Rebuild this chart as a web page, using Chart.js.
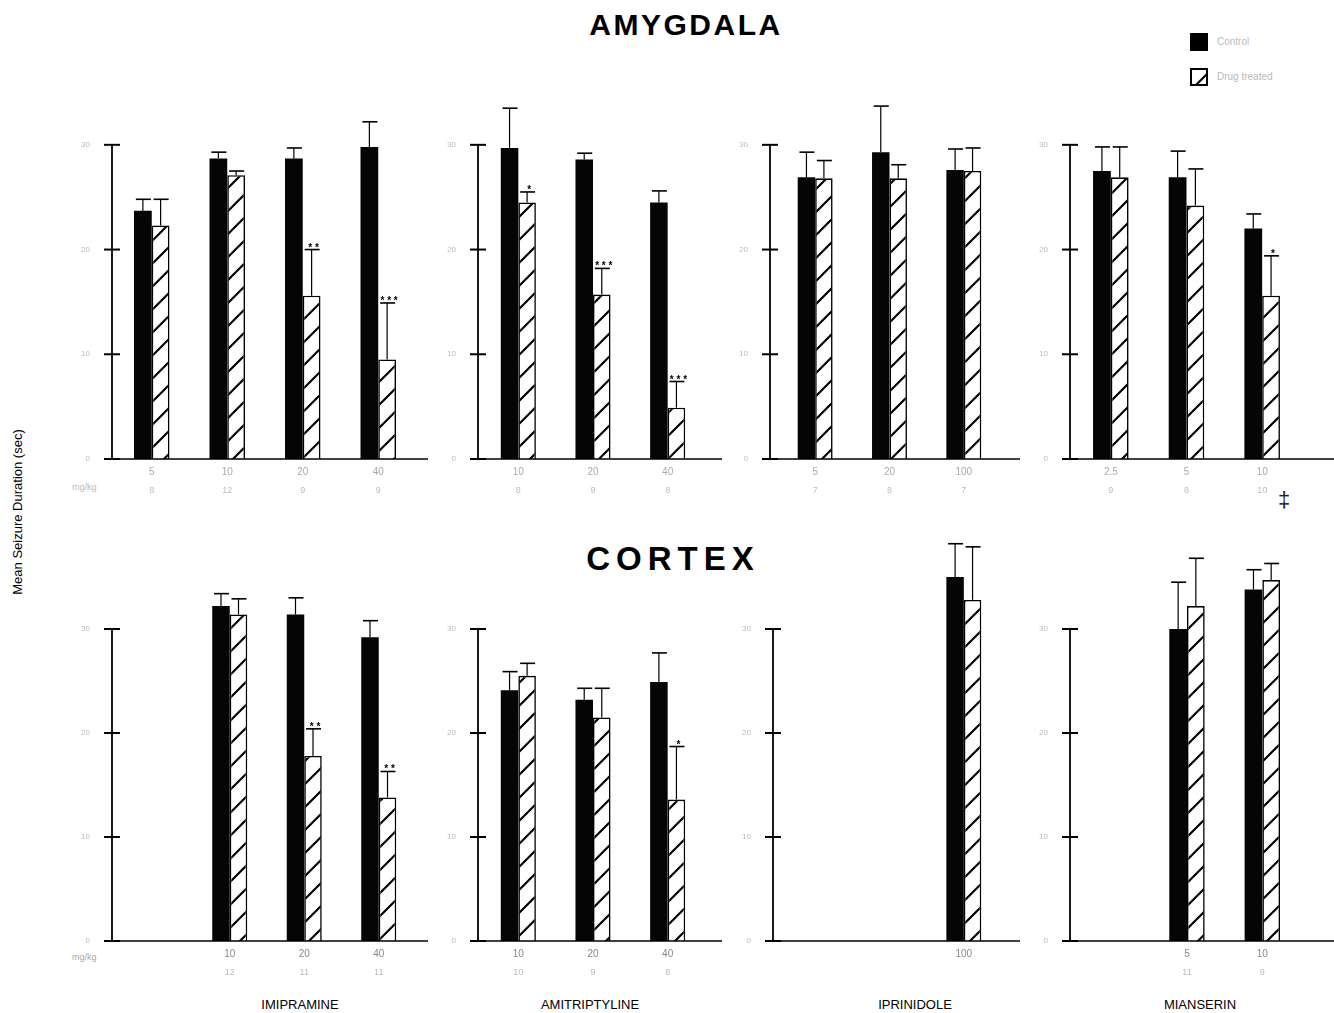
<!DOCTYPE html>
<html>
<head>
<meta charset="utf-8">
<script src="https://cdn.jsdelivr.net/npm/chart.js@4.4.1/dist/chart.umd.min.js"></script>
<style>
body { margin: 0; background: #fff; width: 1334px; height: 1013px; position: relative; overflow: hidden;
       font-family: "Liberation Sans", Arial, sans-serif; }
canvas { position: absolute; }
.t { position: absolute; white-space: nowrap; color: #000; }
</style>
</head>
<body>
<div class="t" style="left:0;width:1372px;text-align:center;top:10px;font-size:30px;line-height:30px;font-weight:bold;letter-spacing:2.5px;">AMYGDALA</div>
<div class="t" style="left:0;width:1346px;text-align:center;top:542px;font-size:33px;line-height:33px;font-weight:bold;letter-spacing:6px;">CORTEX</div>

<div class="t" style="left:1190px;top:33px;width:18px;height:18px;background:#000;"></div>
<canvas id="legHatch" width="18" height="18" style="left:1190px;top:68px;"></canvas>
<div class="t" style="left:1217px;top:36px;font-size:10px;color:#bbb;">Control</div>
<div class="t" style="left:1217px;top:71px;font-size:10px;color:#bbb;">Drug treated</div>

<div class="t" style="left:17px;top:512px;font-size:13px;transform:translate(-50%,-50%) rotate(-90deg);">Mean Seizure Duration (sec)</div>

<div class="t" style="left:300px;top:997px;font-size:13px;transform:translateX(-50%);">IMIPRAMINE</div>
<div class="t" style="left:590px;top:997px;font-size:13px;transform:translateX(-50%);">AMITRIPTYLINE</div>
<div class="t" style="left:915px;top:997px;font-size:13px;transform:translateX(-50%);">IPRINIDOLE</div>
<div class="t" style="left:1200px;top:997px;font-size:13px;transform:translateX(-50%);">MIANSERIN</div>

<div class="t" style="left:72px;top:482px;font-size:9px;color:#bbb;">mg/kg</div>
<div class="t" style="left:72px;top:952px;font-size:9px;color:#aaa;">mg/kg</div>
<div class="t" style="left:1278px;top:487px;font-size:22px;color:#222;">‡</div>

<script>
// y axis tick values (sec)
const tickValues = [0, 10, 20, 30];

// IMIPRAMINE
const imiDoses = ['5', '10', '20', '40'];
const imiAmyN = ['8', '12', '9', '9'];
const imiAmyCtl = [23.7, 28.7, 28.7, 29.8];
const imiAmyCtlSem = [1.1, 0.6, 1.0, 2.4];
const imiAmyDrug = [22.3, 27.1, 15.6, 9.5];
const imiAmyDrugSem = [2.5, 0.4, 4.4, 5.4];
const imiAmySig = ['', '', '**', '***'];
const imiCtxN = ['', '12', '11', '11'];
const imiCtxCtl = [null, 32.2, 31.4, 29.2];
const imiCtxCtlSem = [null, 1.2, 1.6, 1.6];
const imiCtxDrug = [null, 31.4, 17.8, 13.8];
const imiCtxDrugSem = [null, 1.5, 2.6, 2.5];
const imiCtxSig = ['', '', '**', '**'];

// AMITRIPTYLINE
const amiDoses = ['10', '20', '40'];
const amiAmyN = ['8', '9', '8'];
const amiAmyCtl = [29.7, 28.6, 24.5];
const amiAmyCtlSem = [3.8, 0.6, 1.1];
const amiAmyDrug = [24.5, 15.7, 4.9];
const amiAmyDrugSem = [1.0, 2.5, 2.5];
const amiAmySig = ['*', '***', '***'];
const amiCtxN = ['10', '9', '8'];
const amiCtxCtl = [24.1, 23.2, 24.9];
const amiCtxCtlSem = [1.8, 1.1, 2.8];
const amiCtxDrug = [25.5, 21.5, 13.6];
const amiCtxDrugSem = [1.2, 2.8, 5.1];
const amiCtxSig = ['', '', '*'];

// IPRINIDOLE
const iprDoses = ['5', '20', '100'];
const iprAmyN = ['7', '8', '7'];
const iprAmyCtl = [26.9, 29.3, 27.6];
const iprAmyCtlSem = [2.4, 4.4, 2.0];
const iprAmyDrug = [26.8, 26.8, 27.5];
const iprAmyDrugSem = [1.7, 1.3, 2.2];
const iprAmySig = ['', '', ''];
const iprCtxN = ['', '', ''];
const iprCtxCtl = [null, null, 35.0];
const iprCtxCtlSem = [null, null, 3.2];
const iprCtxDrug = [null, null, 32.8];
const iprCtxDrugSem = [null, null, 5.1];
const iprCtxSig = ['', '', ''];

// MIANSERIN
const miaDoses = ['2.5', '5', '10'];
const miaAmyN = ['9', '8', '10'];
const miaAmyCtl = [27.5, 26.9, 22.0];
const miaAmyCtlSem = [2.3, 2.5, 1.4];
const miaAmyDrug = [26.9, 24.2, 15.6];
const miaAmyDrugSem = [2.9, 3.5, 3.8];
const miaAmySig = ['', '', '*'];
const miaCtxN = ['', '11', '9'];
const miaCtxCtl = [null, 30.0, 33.8];
const miaCtxCtlSem = [null, 4.5, 1.9];
const miaCtxDrug = [null, 32.2, 34.7];
const miaCtxDrugSem = [null, 4.6, 1.6];
const miaCtxSig = ['', '', ''];

function makeHatch() {
    const s = 23;
    const c = document.createElement('canvas');
    c.width = s; c.height = s;
    const g = c.getContext('2d');
    g.fillStyle = '#fff';
    g.fillRect(0, 0, s, s);
    g.strokeStyle = '#000';
    g.lineWidth = 2.2;
    g.beginPath();
    g.moveTo(-2, s + 2); g.lineTo(s + 2, -2);
    g.moveTo(-3, 3); g.lineTo(3, -3);
    g.moveTo(s - 3, s + 3); g.lineTo(s + 3, s - 3);
    g.stroke();
    return g.createPattern(c, 'repeat');
}
const hatch = makeHatch();

// legend swatch
(function () {
    const g = document.getElementById('legHatch').getContext('2d');
    g.fillStyle = makeHatch();
    g.fillRect(0, 0, 18, 18);
    g.strokeStyle = '#000';
    g.lineWidth = 2;
    g.strokeRect(1, 1, 16, 16);
})();

const panelDecor = {
    id: 'panelDecor',
    afterDatasetsDraw(chart) {
        const p = chart.options.plugins.panelDecor;
        const ctx = chart.ctx;
        const ys = chart.scales.y, xs = chart.scales.x;
        const ax = p.axisX;
        const y0 = ys.getPixelForValue(0);
        const line = (x1, y1, x2, y2) => { ctx.beginPath(); ctx.moveTo(x1, y1); ctx.lineTo(x2, y2); ctx.stroke(); };
        ctx.save();
        ctx.strokeStyle = '#000';
        ctx.lineWidth = 1.8;
        line(ax, y0, ax, ys.getPixelForValue(tickValues[tickValues.length - 1]));
        ctx.font = '8px "Liberation Sans", Arial';
        ctx.fillStyle = '#bbb';
        ctx.textAlign = 'right';
        ctx.textBaseline = 'middle';
        tickValues.forEach(v => {
            const py = ys.getPixelForValue(v);
            ctx.lineWidth = 2;
            line(ax - 8, py, ax + 8, py);
            ctx.fillText(String(v), ax - 22, py);
        });
        ctx.lineWidth = 1.5;
        line(ax - 2, y0, chart.width, y0);

        // error bars (mean + SEM) and significance stars
        chart.data.datasets.forEach((ds, di) => {
            const meta = chart.getDatasetMeta(di);
            meta.data.forEach((bar, i) => {
                const v = ds.data[i];
                if (v == null) return;
                const top = ys.getPixelForValue(v + ds.sem[i]);
                ctx.lineWidth = 1.2;
                line(bar.x, bar.y, bar.x, top);
                ctx.lineWidth = 1.6;
                line(bar.x - 7, top, bar.x + 8, top);
                if (ds.sig && ds.sig[i]) {
                    ctx.fillStyle = '#000';
                    ctx.font = 'bold 10px "Liberation Sans", Arial';
                    ctx.textAlign = 'center';
                    ctx.textBaseline = 'alphabetic';
                    ctx.fillText(ds.sig[i].split('').join(' '), bar.x + 2, top + 1);
                }
            });
        });

        // dose labels and n
        ctx.textAlign = 'center';
        ctx.textBaseline = 'middle';
        chart.data.labels.forEach((lab, i) => {
            const has = chart.data.datasets.some(ds => ds.data[i] != null);
            if (!has) return;
            const cx = xs.getPixelForValue(i);
            ctx.fillStyle = p.labelColor;
            ctx.font = '10px "Liberation Sans", Arial';
            ctx.fillText(lab, cx, y0 + 13);
            ctx.fillStyle = '#bbb';
            ctx.font = '9px "Liberation Sans", Arial';
            ctx.fillText(p.n[i] || '', cx, y0 + 32);
        });
        ctx.restore();
    }
};

const AMY = { base: 459, ppu: 10.47, ymax: 36, labelColor: '#aaa' };
const CTX = { base: 941, ppu: 10.4, ymax: 40, labelColor: '#888' };

const panels = [
    { row: AMY, doses: imiDoses, n: imiAmyN, ctl: imiAmyCtl, ctlSem: imiAmyCtlSem, drug: imiAmyDrug, drugSem: imiAmyDrugSem, sig: imiAmySig, axisX: 112, left: 114, right: 416, end: 428 },
    { row: AMY, doses: amiDoses, n: amiAmyN, ctl: amiAmyCtl, ctlSem: amiAmyCtlSem, drug: amiAmyDrug, drugSem: amiAmyDrugSem, sig: amiAmySig, axisX: 478, left: 481, right: 705, end: 722 },
    { row: AMY, doses: iprDoses, n: iprAmyN, ctl: iprAmyCtl, ctlSem: iprAmyCtlSem, drug: iprAmyDrug, drugSem: iprAmyDrugSem, sig: iprAmySig, axisX: 770, left: 778, right: 1001, end: 1020 },
    { row: AMY, doses: miaDoses, n: miaAmyN, ctl: miaAmyCtl, ctlSem: miaAmyCtlSem, drug: miaAmyDrug, drugSem: miaAmyDrugSem, sig: miaAmySig, axisX: 1070, left: 1073, right: 1300, end: 1334 },
    { row: CTX, doses: imiDoses, n: imiCtxN, ctl: imiCtxCtl, ctlSem: imiCtxCtlSem, drug: imiCtxDrug, drugSem: imiCtxDrugSem, sig: imiCtxSig, axisX: 112, left: 118, right: 416, end: 428 },
    { row: CTX, doses: amiDoses, n: amiCtxN, ctl: amiCtxCtl, ctlSem: amiCtxCtlSem, drug: amiCtxDrug, drugSem: amiCtxDrugSem, sig: amiCtxSig, axisX: 478, left: 481, right: 705, end: 722 },
    { row: CTX, doses: iprDoses, n: iprCtxN, ctl: iprCtxCtl, ctlSem: iprCtxCtlSem, drug: iprCtxDrug, drugSem: iprCtxDrugSem, sig: iprCtxSig, axisX: 773, left: 778, right: 1001, end: 1020 },
    { row: CTX, doses: miaDoses, n: miaCtxN, ctl: miaCtxCtl, ctlSem: miaCtxCtlSem, drug: miaCtxDrug, drugSem: miaCtxDrugSem, sig: miaCtxSig, axisX: 1070, left: 1074, right: 1300, end: 1334 }
];

panels.forEach(p => {
    const r = p.row;
    const areaH = Math.round(r.ymax * r.ppu);
    const canvasLeft = p.axisX - 50;
    const canvasTop = r.base - areaH - 4;
    const cv = document.createElement('canvas');
    cv.width = p.end - canvasLeft;
    cv.height = areaH + 4 + 48;
    cv.style.left = canvasLeft + 'px';
    cv.style.top = canvasTop + 'px';
    document.body.appendChild(cv);

    new Chart(cv.getContext('2d'), {
        type: 'bar',
        data: {
            labels: p.doses,
            datasets: [
                { data: p.ctl, sem: p.ctlSem, backgroundColor: '#050505', borderWidth: 0 },
                { data: p.drug, sem: p.drugSem, sig: p.sig, backgroundColor: hatch, borderColor: '#000', borderWidth: 1.6 }
            ]
        },
        options: {
            responsive: false,
            animation: false,
            devicePixelRatio: 1,
            categoryPercentage: 0.47,
            barPercentage: 1.0,
            layout: { padding: { left: p.left - canvasLeft, right: p.end - p.right, top: 4, bottom: 48 } },
            scales: {
                x: { display: false },
                y: { display: false, min: 0, max: r.ymax }
            },
            plugins: {
                legend: { display: false },
                tooltip: { enabled: false },
                panelDecor: { axisX: p.axisX - canvasLeft, n: p.n, labelColor: r.labelColor }
            }
        },
        plugins: [panelDecor]
    });
});
</script>
</body>
</html>
